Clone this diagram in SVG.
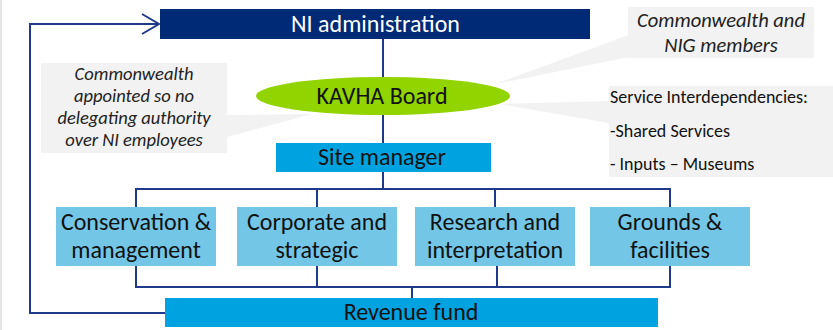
<svg xmlns="http://www.w3.org/2000/svg" width="833" height="330" viewBox="0 0 833 330">
<style>
text{font-family:Calibri,Carlito,Lato,"Open Sans",sans-serif;}
.c{stroke:#1F3A8A;stroke-width:2;fill:none;}
.call{fill:#F2F2F2;}
.ci{font-style:italic;font-size:18.5px;fill:#222;text-anchor:middle;}
.bt{font-size:24px;fill:#111;text-anchor:middle;}
.rt{font-size:18px;fill:#111;}
.sub{fill:#73C6E6;}
.mid{fill:#00A2E0;}
</style>
<rect x="0" y="0" width="833" height="330" fill="#fff"/>
<rect x="0" y="0" width="2" height="330" fill="#E4E4E4"/>
<g id="callouts">
<polygon class="call" points="227,115 312,114 227,137"/>
<rect class="call" x="41" y="63" width="186" height="90"/>
<text class="ci" x="134" y="80">Commonwealth</text>
<text class="ci" x="134" y="102">appointed so no</text>
<text class="ci" x="134" y="124">delegating authority</text>
<text class="ci" x="134" y="146">over NI employees</text>
<polygon class="call" points="495,84 629,35 629,57"/>
<rect class="call" x="628" y="7" width="186" height="51"/>
<text class="ci" x="721" y="27" style="font-size:20.5px">Commonwealth and</text>
<text class="ci" x="721" y="52" style="font-size:20.5px">NIG members</text>
<polygon class="call" points="500,104 609,101 609,123"/>
<rect class="call" x="609" y="86" width="224" height="91"/>
<text class="rt" x="610" y="103">Service Interdependencies:</text>
<text class="rt" x="610" y="137">-Shared Services</text>
<text class="rt" x="610" y="170">- Inputs – Museums</text>
</g>
<g id="connectors">
<line class="c" x1="383" y1="39" x2="383" y2="78"/>
<line class="c" x1="383" y1="114" x2="383" y2="143"/>
<line class="c" x1="383" y1="172" x2="383" y2="189"/>
<polyline class="c" points="136,207 136,189 670,189 670,207"/>
<line class="c" x1="317" y1="189" x2="317" y2="207"/>
<line class="c" x1="495" y1="189" x2="495" y2="207"/>
<polyline class="c" points="136,266 136,287 670,287 670,266"/>
<line class="c" x1="317" y1="266" x2="317" y2="287"/>
<line class="c" x1="497" y1="266" x2="497" y2="287"/>
<line class="c" x1="412" y1="287" x2="412" y2="298"/>
<polyline class="c" points="165,313 30,313 30,24 158,24"/>
<polyline class="c" points="142,14 159,24 142,34"/>
</g>
<g id="ni-admin">
<rect x="160" y="9" width="430" height="30" fill="#002A76"/>
<text x="375.5" y="32" style="font-size:24px;fill:#fff;text-anchor:middle">NI administration</text>
</g>
<g id="kavha-board">
<ellipse cx="383" cy="96" rx="127" ry="19" fill="#92D400"/>
<text class="bt" x="382" y="104">KAVHA Board</text>
</g>
<g id="site-manager">
<rect class="mid" x="276" y="143" width="215" height="29"/>
<text class="bt" x="382" y="165">Site manager</text>
</g>
<g id="conservation">
<rect class="sub" x="56" y="207" width="160" height="59"/>
<text class="bt" x="136" y="230">Conservation &amp;</text>
<text class="bt" x="136" y="258">management</text>
</g>
<g id="corporate">
<rect class="sub" x="237" y="207" width="160" height="59"/>
<text class="bt" x="317" y="230">Corporate and</text>
<text class="bt" x="317" y="258">strategic</text>
</g>
<g id="research">
<rect class="sub" x="415" y="207" width="160" height="59"/>
<text class="bt" x="495" y="230">Research and</text>
<text class="bt" x="495" y="258">interpretation</text>
</g>
<g id="grounds">
<rect class="sub" x="590" y="207" width="160" height="59"/>
<text class="bt" x="670" y="230">Grounds &amp;</text>
<text class="bt" x="670" y="258">facilities</text>
</g>
<g id="revenue-fund">
<rect class="mid" x="165" y="298" width="493" height="29"/>
<text class="bt" x="411" y="320">Revenue fund</text>
</g>
</svg>
